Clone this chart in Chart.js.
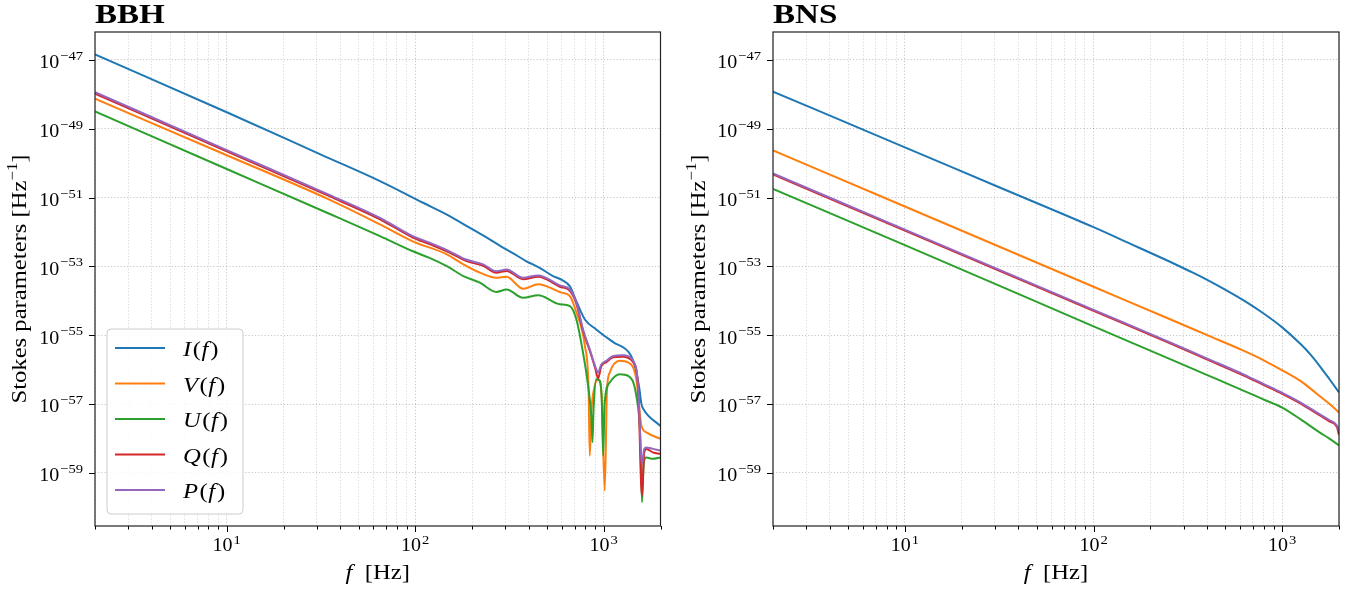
<!DOCTYPE html>
<html>
<head>
<meta charset="utf-8">
<script src="https://cdn.jsdelivr.net/npm/chart.js@4.4.1/dist/chart.umd.min.js"></script>
<style>
  html, body { margin: 0; padding: 0; background: #fff; }
  #wrap { position: relative; width: 1364px; height: 593px; }
  canvas { position: absolute; top: 0; }
  #cBBH { left: 0; }
  #cBNS { left: 682px; }
</style>
</head>
<body>
<div id="wrap">
  <canvas id="cBBH" width="682" height="593"></canvas>
  <canvas id="cBNS" width="682" height="593"></canvas>
</div>
<script>
// valores: frequência em Hz, parâmetro de Stokes como expoente (log10, Hz^-1)

// ---- BBH ----
const bbhI_f = [2, 10, 31.6, 65, 110, 148, 195, 234, 282, 331, 389, 457, 538, 603, 661, 719, 794, 912, 1122, 1380, 1462, 1540, 1585, 1622, 2000];
const bbhI_v = [-46.84, -48.52, -49.75, -50.52, -51.15, -51.5, -51.88, -52.13, -52.4, -52.62, -52.85, -53.04, -53.28, -53.4, -53.58, -54.04, -54.54, -54.83, -55.2, -55.55, -55.9, -56.5, -57.0, -57.14, -57.64];

const bbhV_f = [2, 10, 35, 65, 97, 147, 180, 220, 269, 305, 373, 449, 596, 661, 716, 794, 830, 843, 860, 885, 933, 975, 1012, 1040, 1076, 1216, 1349, 1489, 1585, 1683, 2000];
const bbhV_v = [-48.13, -49.77, -51.06, -51.78, -52.27, -52.65, -52.94, -53.18, -53.33, -53.30, -53.65, -53.52, -53.76, -53.86, -54.34, -55.31, -56.5, -58.5, -57.2, -56.6, -56.28, -56.8, -59.51, -56.6, -56.08, -55.74, -55.79, -56.28, -57.63, -57.82, -58.01];

const bbhU_f = [2, 10, 35, 65, 97, 119, 147, 180, 220, 269, 305, 373, 449, 585, 661, 716, 776, 826, 860, 871, 882, 912, 953, 975, 993, 1010, 1076, 1216, 1349, 1489, 1560, 1596, 1630, 1683, 1820, 2000];
const bbhU_v = [-48.5, -50.17, -51.47, -52.12, -52.56, -52.75, -52.99, -53.28, -53.47, -53.74, -53.67, -53.91, -53.84, -54.10, -54.15, -54.54, -55.5, -56.47, -57.4, -58.11, -57.2, -56.28, -56.32, -56.8, -58.5, -57.0, -56.37, -56.13, -56.18, -56.76, -57.9, -59.85, -58.7, -58.55, -58.59, -58.55];

const bbhQ_f = [2, 10, 35, 65, 97, 119, 152, 186, 229, 269, 305, 373, 449, 585, 661, 716, 776, 843, 900, 933, 970, 1033, 1122, 1259, 1432, 1521, 1595, 1640, 1683, 1820, 2000];
const bbhQ_v = [-47.98, -49.66, -50.96, -51.63, -52.16, -52.35, -52.6, -52.84, -52.98, -53.18, -53.13, -53.37, -53.3, -53.59, -53.71, -54.09, -54.87, -55.45, -55.95, -56.25, -55.9, -55.78, -55.64, -55.62, -55.78, -56.5, -59.66, -58.4, -58.3, -58.4, -58.45];

const bbhP_f = [2, 10, 35, 65, 97, 119, 152, 186, 229, 269, 305, 373, 449, 585, 661, 716, 776, 843, 900, 933, 970, 1033, 1122, 1259, 1432, 1521, 1595, 1640, 1683, 1820, 2000];
const bbhP_v = [-47.94, -49.62, -50.92, -51.59, -52.12, -52.31, -52.56, -52.80, -52.94, -53.14, -53.09, -53.33, -53.26, -53.55, -53.67, -54.05, -54.83, -55.41, -55.9, -56.08, -55.85, -55.74, -55.6, -55.58, -55.74, -56.47, -58.74, -58.3, -58.26, -58.3, -58.35];

// ---- BNS ----
const bnsI_f = [2, 10, 31.6, 100, 158, 251, 316, 398, 501, 631, 794, 1000, 1259, 1413, 1585, 1778, 2000];
const bnsI_v = [-47.92, -49.54, -50.70, -51.86, -52.35, -52.85, -53.11, -53.38, -53.68, -54.0, -54.36, -54.77, -55.27, -55.56, -55.9, -56.27, -56.66];

const bnsV_f = [2, 10, 100, 251, 398, 631, 794, 1000, 1259, 1413, 1585, 1778, 2000];
const bnsV_v = [-49.63, -51.26, -53.59, -54.52, -54.99, -55.46, -55.72, -56.02, -56.34, -56.55, -56.77, -56.99, -57.24];

const bnsU_f = [2, 10, 100, 251, 398, 631, 794, 1000, 1259, 1585, 1778, 2000];
const bnsU_v = [-50.75, -52.38, -54.74, -55.68, -56.15, -56.62, -56.86, -57.1, -57.45, -57.83, -58.0, -58.2];

const bnsQ_f = [2, 10, 100, 251, 398, 631, 794, 1000, 1259, 1585, 1778, 1950, 2000];
const bnsQ_v = [-50.33, -51.96, -54.29, -55.22, -55.7, -56.18, -56.44, -56.70, -56.99, -57.33, -57.5, -57.67, -57.9];

const bnsP_f = [2, 10, 100, 251, 398, 631, 794, 1000, 1259, 1585, 1778, 1950, 2000];
const bnsP_v = [-50.30, -51.93, -54.26, -55.19, -55.67, -56.15, -56.41, -56.67, -56.96, -57.3, -57.46, -57.62, -57.78];

// ---- eixos ----
const xMin = 2, xMax = 2000;
const yMin = -60.54, yMax = -46.19;
const xMajor = [10, 100, 1000];
const xMinor = [2, 3, 4, 5, 6, 7, 8, 9, 20, 30, 40, 50, 60, 70, 80, 90, 200, 300, 400, 500, 600, 700, 800, 900, 2000];
const yMajor = [-59, -57, -55, -53, -51, -49, -47];
const xLabels = ["1", "2", "3"];

const nomes = ["I", "V", "U", "Q", "P"];
const cores = ["#1f77b4", "#ff7f0e", "#2ca02c", "#d62728", "#9467bd"];
const serif = '"Liberation Serif", "DejaVu Serif", serif';

function pontos(fs, vs) {
  return fs.map((f, i) => ({ x: f, y: vs[i] }));
}

// texto um pouco mais largo, para lembrar a Computer Modern
function larg(ctx, t, k) { return ctx.measureText(t).width * k; }
function texto(ctx, t, x, y, k) {
  ctx.save();
  ctx.translate(x, y);
  ctx.scale(k, 1);
  ctx.textAlign = "left";
  ctx.textBaseline = "alphabetic";
  ctx.fillText(t, 0, 0);
  ctx.restore();
}

function escreverPotencia(ctx, x, y, exp, align, subida) {
  const k = 1.08;
  ctx.font = `18.5px ${serif}`;
  const wb = larg(ctx, "10", k);
  ctx.font = `13.5px ${serif}`;
  const we = larg(ctx, exp, k);
  const w = wb + 1 + we;
  const x0 = align === "right" ? x - w : x - w / 2;
  ctx.font = `18.5px ${serif}`;
  texto(ctx, "10", x0, y, k);
  ctx.font = `13.5px ${serif}`;
  texto(ctx, exp, x0 + wb + 1, y - subida, k);
}

// escreve pedaços com estilos diferentes em sequência, centrado em x
function escreverPedacos(ctx, pedacos, x, y, k) {
  let w = 0;
  pedacos.forEach(p => { ctx.font = p.font; w += larg(ctx, p.t, k); });
  let cx = x - w / 2;
  pedacos.forEach(p => {
    ctx.font = p.font;
    texto(ctx, p.t, cx, y - (p.up || 0), k);
    cx += larg(ctx, p.t, k);
  });
}

const decoracao = {
  id: "decoracao",
  afterDraw(chart, args, opts) {
    const ctx = chart.ctx, a = chart.chartArea;
    const sx = chart.scales.x, sy = chart.scales.y;
    ctx.save();
    ctx.fillStyle = "#000";

    // marcas dos ticks
    ctx.strokeStyle = "#000";
    ctx.lineWidth = 1;
    sx.ticks.forEach(t => {
      const px = Math.round(sx.getPixelForValue(t.value)) + 0.5;
      const len = xMajor.includes(t.value) ? 6 : 3.5;
      ctx.beginPath(); ctx.moveTo(px, a.bottom); ctx.lineTo(px, a.bottom + len); ctx.stroke();
    });
    sy.ticks.forEach(t => {
      const py = Math.round(sy.getPixelForValue(t.value)) + 0.5;
      ctx.beginPath(); ctx.moveTo(a.left - 6, py); ctx.lineTo(a.left, py); ctx.stroke();
    });

    // moldura
    ctx.strokeStyle = "#222";
    ctx.lineWidth = 1.2;
    ctx.strokeRect(a.left, a.top, a.right - a.left, a.bottom - a.top);

    // rótulos dos ticks
    xMajor.forEach((v, i) => {
      escreverPotencia(ctx, sx.getPixelForValue(v), a.bottom + 25, xLabels[i], "center", 7);
    });
    yMajor.forEach(v => {
      const py = sy.getPixelForValue(v);
      escreverPotencia(ctx, a.left - 12, py + 8.3, "\u2212" + Math.abs(v), "right", 8.3);
    });

    // título do eixo x
    escreverPedacos(ctx, [
      { t: "f", font: `italic 22px ${serif}` },
      { t: "  [Hz]", font: `22px ${serif}` }
    ], (a.left + a.right) / 2, 579, 1.12);

    // título do eixo y
    ctx.save();
    ctx.translate(opts.yTituloX, (a.top + a.bottom) / 2);
    ctx.rotate(-Math.PI / 2);
    escreverPedacos(ctx, [
      { t: "Stokes parameters [Hz", font: `22px ${serif}` },
      { t: "\u22121", font: `15px ${serif}`, up: 9 },
      { t: "]", font: `22px ${serif}` }
    ], 0, 7, 1.12);
    ctx.restore();

    // título do painel
    ctx.font = `bold 28px ${serif}`;
    texto(ctx, opts.titulo, a.left, 23, 1.18);

    // legenda
    if (opts.legenda) {
      const lx = a.left + 12, lw = 136, lh = 185, ly = a.bottom - 12 - lh;
      ctx.beginPath();
      ctx.roundRect(lx, ly, lw, lh, 4);
      ctx.fillStyle = "rgba(255,255,255,0.85)";
      ctx.fill();
      ctx.strokeStyle = "#cccccc";
      ctx.lineWidth = 1;
      ctx.stroke();
      chart.data.datasets.forEach((ds, i) => {
        const yy = ly + 19 + i * 35.5;
        ctx.strokeStyle = ds.borderColor;
        ctx.lineWidth = 2;
        ctx.beginPath(); ctx.moveTo(lx + 8, yy); ctx.lineTo(lx + 58, yy); ctx.stroke();
        ctx.fillStyle = "#000";
        let cx = lx + 76;
        [[ds.label, "italic ", 1.5], ["(", "", 0.5], ["f", "italic ", 2], [")", "", 0]].forEach(([t, st, gap]) => {
          ctx.font = `${st}22px ${serif}`;
          texto(ctx, t, cx, yy + 8, 1.12);
          cx += larg(ctx, t, 1.12) + gap;
        });
      });
    }
    ctx.restore();
  }
};

function montarGrafico(id, series, titulo, legenda, larguraY, direita, yTituloX) {
  const datasets = series.map((s, i) => ({
    label: nomes[i],
    data: pontos(s[0], s[1]),
    borderColor: cores[i],
    backgroundColor: cores[i],
    borderWidth: 2,
    pointRadius: 0,
    cubicInterpolationMode: "monotone",
    fill: false,
    order: 5 - i
  }));
  const corGrade = ctx => xMajor.includes(ctx.tick && ctx.tick.value) || yMajor.includes(ctx.tick && ctx.tick.value)
    ? "rgba(0,0,0,0.28)" : "rgba(0,0,0,0.2)";
  return new Chart(document.getElementById(id), {
    type: "line",
    data: { datasets },
    options: {
      responsive: false,
      animation: false,
      devicePixelRatio: 1,
      layout: { padding: { left: 0, top: 32, right: direita, bottom: 0 } },
      plugins: {
        legend: { display: false },
        tooltip: { enabled: false },
        decoracao: { titulo, legenda, yTituloX }
      },
      scales: {
        x: {
          type: "logarithmic",
          min: xMin, max: xMax,
          afterBuildTicks: s => { s.ticks = [...xMinor, ...xMajor].sort((p, q) => p - q).map(v => ({ value: v })); },
          afterFit: s => { s.height = 67; },
          ticks: { display: false },
          grid: { drawTicks: false, color: corGrade, lineWidth: 0.8 },
          border: { display: false, dash: [1.2, 2] }
        },
        y: {
          type: "linear",
          min: yMin, max: yMax,
          afterBuildTicks: s => { s.ticks = yMajor.map(v => ({ value: v })); },
          afterFit: s => { s.width = larguraY; },
          ticks: { display: false },
          grid: { drawTicks: false, color: corGrade, lineWidth: 0.8 },
          border: { display: false, dash: [1.2, 2] }
        }
      }
    },
    plugins: [decoracao]
  });
}

montarGrafico("cBBH", [
  [bbhI_f, bbhI_v], [bbhV_f, bbhV_v], [bbhU_f, bbhU_v], [bbhQ_f, bbhQ_v], [bbhP_f, bbhP_v]
], "BBH", true, 95, 21.5, 19);

montarGrafico("cBNS", [
  [bnsI_f, bnsI_v], [bnsV_f, bnsV_v], [bnsU_f, bnsU_v], [bnsQ_f, bnsQ_v], [bnsP_f, bnsP_v]
], "BNS", false, 91, 25, 16);
</script>
</body>
</html>
